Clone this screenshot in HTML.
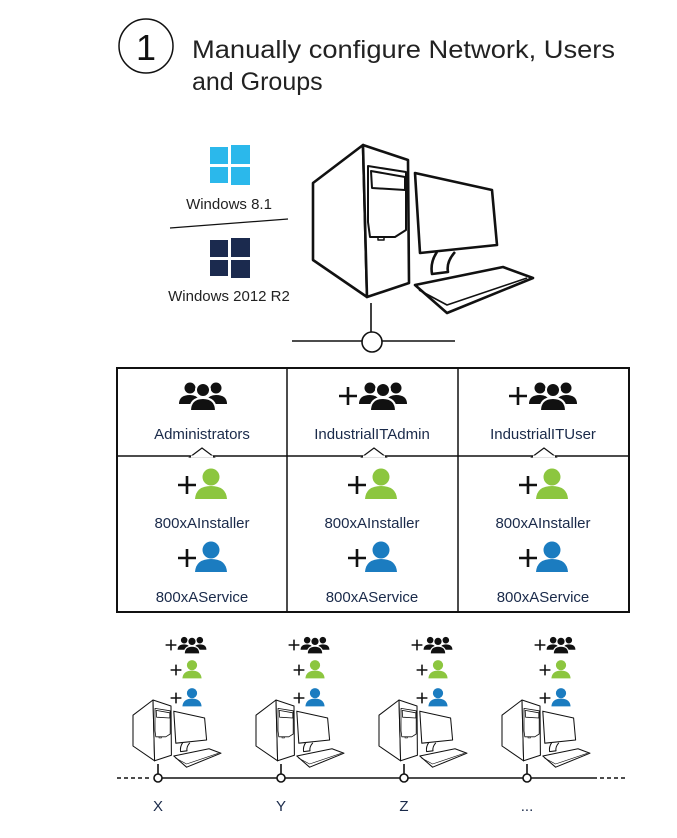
<!DOCTYPE html>
<html><head><meta charset="utf-8"><style>
html,body{margin:0;padding:0;background:#fff;}
svg{display:block;font-family:"Liberation Sans",Arial,sans-serif;}
</style></head><body>
<svg width="677" height="838" viewBox="0 0 677 838" xmlns="http://www.w3.org/2000/svg">
<defs>
<g id="grp">
  <circle cx="-13" cy="-8" r="5.5" fill="#111"/>
  <circle cx="13" cy="-8" r="5.5" fill="#111"/>
  <path d="M-24,8 Q-24,-1 -13,-1 Q-6,-1 -4,4 L-4,8 Z" fill="#111"/>
  <path d="M24,8 Q24,-1 13,-1 Q6,-1 4,4 L4,8 Z" fill="#111"/>
  <path d="M-13,15 Q-13,2 0,2 Q13,2 13,15 Z" fill="#111" stroke="#fff" stroke-width="2"/>
  <circle cx="0" cy="-6" r="7" fill="#111" stroke="#fff" stroke-width="2"/>
</g>
<g id="per">
  <circle cx="0" cy="-8" r="8.5"/>
  <path d="M-16,14 Q-15,1 0,1 Q15,1 16,14 Z"/>
</g>
<g id="plus"><path d="M-9,0 H9 M0,-9 V9" stroke="#111" stroke-width="2.6"/></g>
<g id="pc" fill="#fff" stroke="#111" stroke-width="2.6" stroke-linejoin="round">
  <polygon points="313,183 363,145 367,297 313,260"/>
  <polygon points="363,145 408,160 409,283 367,297"/>
  <path d="M368,166 L406,172 L406,230 L395,237 L370,237 L368,222 Z" fill="none" stroke-width="2"/>
  <path d="M371,171 L405,177 L405,190 L372,188 Z" fill="none" stroke-width="2"/>
  <rect x="378" y="237" width="6" height="3" fill="none" stroke-width="1.5"/>
  <path d="M437,252 Q430,262 432,274 L448,272 Q446,262 455,252" />
  <polygon points="415,173 492,190 497,245 420,253"/>
  <polygon points="415,285 503,267 533,278 447,313"/>
  <path d="M419,290 L447,305 L527,278" fill="none" stroke-width="1.6"/>
</g>
<g id="win">
  <rect x="0" y="2" width="18" height="17"/><rect x="21" y="0" width="19" height="19"/>
  <rect x="0" y="22" width="18" height="16"/><rect x="21" y="22" width="19" height="18"/>
</g>
</defs>

<!-- title -->
<circle cx="146" cy="46" r="27" fill="none" stroke="#111" stroke-width="1.5"/>
<text x="146" y="60" font-size="36" text-anchor="middle" fill="#111">1</text>
<text x="192" y="58" font-size="25" fill="#222" textLength="423" lengthAdjust="spacingAndGlyphs">Manually configure Network, Users</text>
<text x="192" y="90" font-size="25" fill="#222">and Groups</text>

<!-- windows -->
<use href="#win" x="210" y="145" fill="#2bb8eb"/>
<text x="229" y="209" font-size="15" text-anchor="middle" fill="#222">Windows 8.1</text>
<line x1="170" y1="228" x2="288" y2="219" stroke="#111" stroke-width="1.3"/>
<use href="#win" x="210" y="238" fill="#1b2a4e"/>
<text x="229" y="301" font-size="15" text-anchor="middle" fill="#222">Windows 2012 R2</text>

<!-- big pc -->
<use href="#pc"/>
<line x1="371" y1="303" x2="371" y2="332" stroke="#111" stroke-width="1.6"/>
<line x1="292" y1="341" x2="455" y2="341" stroke="#111" stroke-width="1.6"/>
<circle cx="372" cy="342" r="10" fill="#fff" stroke="#111" stroke-width="1.6"/>

<!-- table -->
<rect x="117" y="368" width="512" height="244" fill="none" stroke="#111" stroke-width="2"/>
<line x1="287" y1="368" x2="287" y2="612" stroke="#111" stroke-width="1.5"/>
<line x1="458" y1="368" x2="458" y2="612" stroke="#111" stroke-width="1.5"/>
<line x1="117" y1="456" x2="629" y2="456" stroke="#111" stroke-width="1.5"/>
<g fill="#fff" stroke="#111" stroke-width="1.2">
  <path d="M190,457 L202,448 L214,457 Z"/>
  <path d="M362,457 L374,448 L386,457 Z"/>
  <path d="M532,457 L544,448 L556,457 Z"/>
</g>
<g stroke="none" fill="#fff"><rect x="191" y="455.5" width="22" height="2"/><rect x="363" y="455.5" width="22" height="2"/><rect x="533" y="455.5" width="22" height="2"/></g>

<use href="#grp" x="203" y="396"/>
<use href="#plus" x="348" y="396"/><use href="#grp" x="383" y="396"/>
<use href="#plus" x="518" y="396"/><use href="#grp" x="553" y="396"/>
<g font-size="15" fill="#1a2a4a" text-anchor="middle">
<text x="202" y="439">Administrators</text>
<text x="372" y="439">IndustrialITAdmin</text>
<text x="543" y="439">IndustrialITUser</text>
<text x="202" y="528">800xAInstaller</text>
<text x="372" y="528">800xAInstaller</text>
<text x="543" y="528">800xAInstaller</text>
<text x="202" y="602">800xAService</text>
<text x="372" y="602">800xAService</text>
<text x="543" y="602">800xAService</text>
</g>
<g>
<use href="#plus" x="187" y="485"/><use href="#per" x="211" y="485" fill="#8cc63f"/>
<use href="#plus" x="187" y="558"/><use href="#per" x="211" y="558" fill="#1b7cc0"/>
<use href="#plus" x="357" y="485"/><use href="#per" x="381" y="485" fill="#8cc63f"/>
<use href="#plus" x="357" y="558"/><use href="#per" x="381" y="558" fill="#1b7cc0"/>
<use href="#plus" x="528" y="485"/><use href="#per" x="552" y="485" fill="#8cc63f"/>
<use href="#plus" x="528" y="558"/><use href="#per" x="552" y="558" fill="#1b7cc0"/>
</g>

<!-- bottom network -->
<line x1="117" y1="778" x2="152" y2="778" stroke="#111" stroke-width="1.6" stroke-dasharray="4,3"/>
<line x1="158" y1="778" x2="597" y2="778" stroke="#111" stroke-width="1.6"/>
<line x1="600" y1="778" x2="628" y2="778" stroke="#111" stroke-width="1.6" stroke-dasharray="4,3"/>

<g id="col">
  <g transform="translate(171,645) scale(0.6)"><use href="#plus"/></g>
  <g transform="translate(192,645) scale(0.6)"><use href="#grp"/></g>
  <g transform="translate(176,670) scale(0.6)"><use href="#plus"/></g>
  <g transform="translate(192,670) scale(0.6)"><use href="#per" fill="#8cc63f"/></g>
  <g transform="translate(176,698) scale(0.6)"><use href="#plus"/></g>
  <g transform="translate(192,698) scale(0.6)"><use href="#per" fill="#1b7cc0"/></g>
  <g transform="translate(133,700) scale(0.4) translate(-313,-145)"><use href="#pc" stroke-width="3"/></g>
  <line x1="158" y1="764" x2="158" y2="774" stroke="#111" stroke-width="1.6"/>
  <circle cx="158" cy="778" r="4" fill="#fff" stroke="#111" stroke-width="1.6"/>
</g>
<use href="#col" x="123"/>
<use href="#col" x="246"/>
<use href="#col" x="369"/>
<g font-size="15" fill="#1a2a4a" text-anchor="middle">
<text x="158" y="811">X</text>
<text x="281" y="811">Y</text>
<text x="404" y="811">Z</text>
<text x="527" y="811">...</text>
</g>
</svg>
</body></html>
